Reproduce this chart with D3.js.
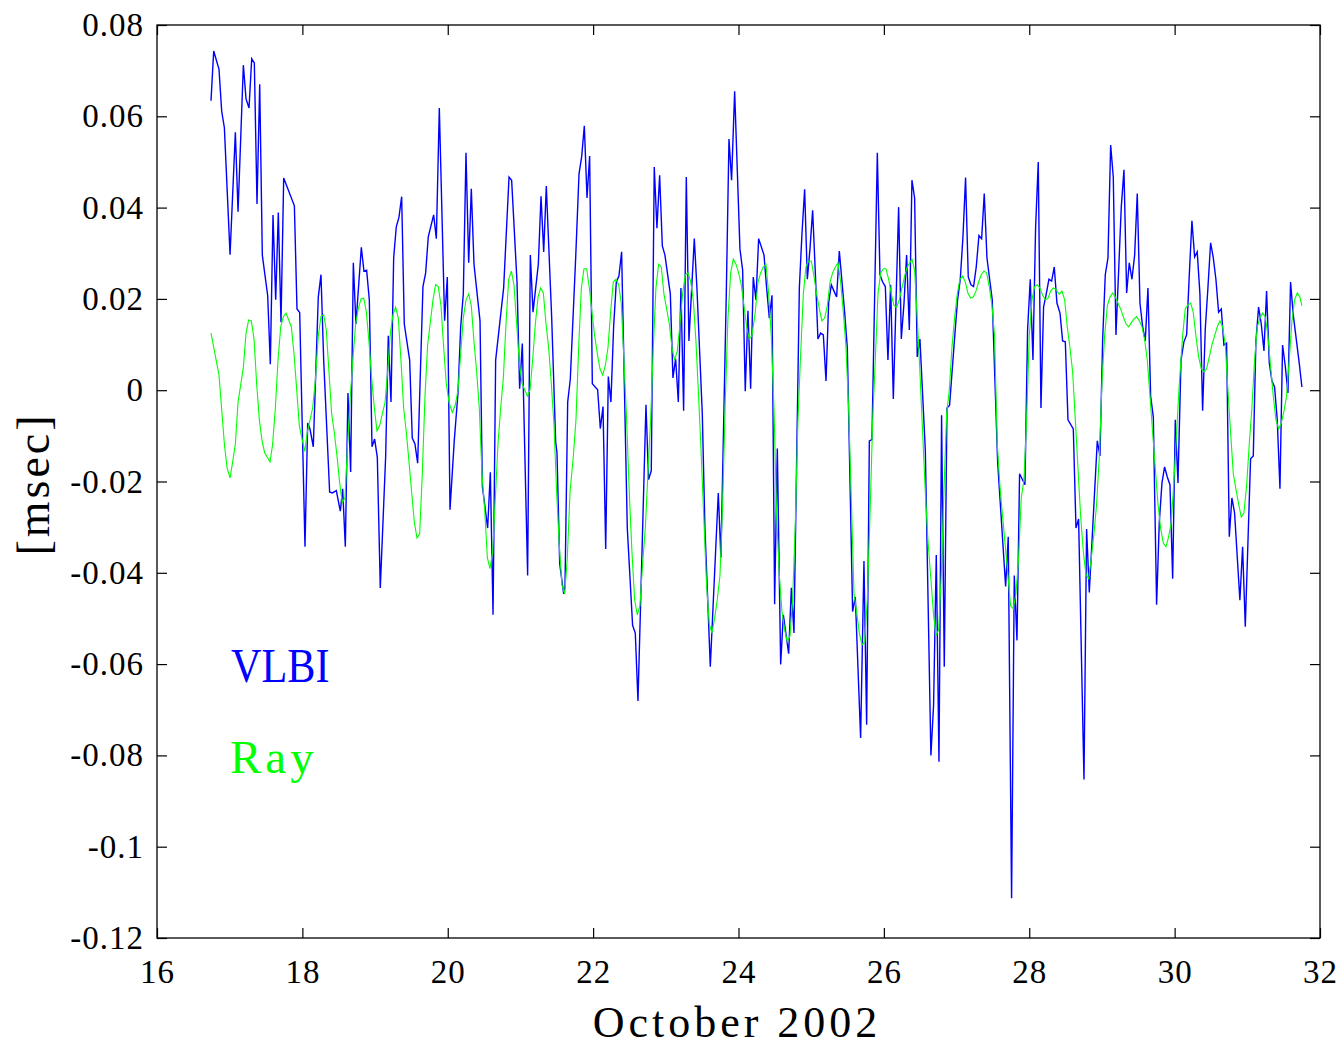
<!DOCTYPE html>
<html>
<head>
<meta charset="utf-8">
<script src="https://cdn.jsdelivr.net/npm/d3@7"></script>
<style>
  body { margin: 0; background: #fff; }
  svg text { font-family: "Liberation Serif", "Times New Roman", serif; fill: #000; }
</style>
</head>
<body>
<svg id="chart" width="1344" height="1046"></svg>
<script>
// VLBI series (day of October 2002, msec)
const vlbiDays = [16.743,16.780,16.853,16.890,16.927,17.005,17.078,17.115,17.188,17.225,17.266,17.303,17.339,17.376,17.413,17.449,17.523,17.559,17.596,17.633,17.669,17.706,17.743,17.890,17.926,17.963,18.036,18.073,18.105,18.150,18.219,18.256,18.293,18.375,18.412,18.467,18.522,18.554,18.591,18.627,18.664,18.701,18.737,18.811,18.847,18.884,18.921,18.958,18.994,19.031,19.072,19.146,19.182,19.219,19.256,19.292,19.329,19.366,19.402,19.476,19.512,19.549,19.586,19.659,19.696,19.732,19.806,19.843,19.884,19.957,19.994,20.031,20.090,20.141,20.178,20.214,20.251,20.288,20.324,20.361,20.444,20.476,20.549,20.586,20.623,20.659,20.769,20.843,20.879,20.953,20.989,21.026,21.099,21.136,21.173,21.246,21.283,21.320,21.356,21.430,21.485,21.503,21.540,21.595,21.613,21.650,21.686,21.760,21.806,21.842,21.879,21.916,21.952,21.989,22.062,22.099,22.136,22.173,22.209,22.245,22.282,22.319,22.355,22.392,22.470,22.543,22.580,22.617,22.727,22.763,22.800,22.841,22.878,22.915,22.952,22.988,23.062,23.098,23.135,23.172,23.208,23.245,23.282,23.318,23.392,23.428,23.502,23.538,23.612,23.722,23.758,23.832,23.869,23.905,23.947,24.020,24.057,24.093,24.130,24.167,24.203,24.240,24.277,24.351,24.387,24.424,24.461,24.497,24.534,24.580,24.617,24.690,24.727,24.763,24.837,24.873,24.910,24.947,24.983,25.020,25.057,25.093,25.130,25.167,25.204,25.240,25.277,25.314,25.350,25.387,25.460,25.497,25.570,25.607,25.680,25.726,25.763,25.800,25.836,25.910,25.946,25.983,26.020,26.056,26.093,26.130,26.203,26.240,26.277,26.313,26.350,26.386,26.423,26.459,26.496,26.570,26.647,26.684,26.721,26.758,26.794,26.831,26.868,26.904,26.978,27.014,27.051,27.088,27.124,27.161,27.198,27.234,27.271,27.308,27.345,27.381,27.418,27.455,27.491,27.565,27.675,27.711,27.757,27.794,27.831,27.867,27.941,27.977,28.014,28.051,28.087,28.124,28.161,28.197,28.234,28.271,28.308,28.344,28.381,28.423,28.459,28.496,28.533,28.606,28.643,28.679,28.753,28.789,28.826,28.936,28.973,29.010,29.046,29.083,29.120,29.156,29.193,29.266,29.303,29.340,29.376,29.413,29.450,29.486,29.523,29.560,29.596,29.633,29.670,29.707,29.752,29.789,29.826,29.862,29.899,29.936,29.973,30.009,30.046,30.088,30.128,30.165,30.201,30.238,30.275,30.311,30.348,30.385,30.422,30.458,30.495,30.532,30.568,30.605,30.642,30.678,30.715,30.752,30.788,30.825,30.898,30.935,30.972,31.045,31.082,31.118,31.155,31.192,31.229,31.265,31.302,31.339,31.375,31.412,31.449,31.485,31.522,31.559,31.595,31.632,31.678,31.714,31.751];
const vlbiValues = [0.0634,0.0743,0.0703,0.0611,0.0575,0.0297,0.0565,0.0391,0.0712,0.0638,0.0618,0.0726,0.0717,0.0408,0.0670,0.0296,0.0207,0.0057,0.0384,0.0198,0.0389,0.0149,0.0465,0.0404,0.0178,0.0170,-0.0343,-0.0072,-0.0085,-0.0124,0.0204,0.0253,0.0066,-0.0223,-0.0225,-0.0220,-0.0265,-0.0216,-0.0343,-0.0006,-0.0179,0.0279,0.0145,0.0313,0.0261,0.0263,0.0198,-0.0124,-0.0107,-0.0147,-0.0433,-0.0144,0.0119,-0.0026,0.0290,0.0358,0.0379,0.0424,0.0145,0.0066,-0.0105,-0.0118,-0.0160,0.0227,0.0257,0.0336,0.0384,0.0332,0.0618,0.0152,0.0248,-0.0262,-0.0110,-0.0006,0.0139,0.0211,0.0520,0.0279,0.0441,0.0276,0.0152,-0.0210,-0.0302,-0.0180,-0.0492,0.0066,0.0224,0.0467,0.0460,0.0237,0.0003,0.0102,-0.0406,0.0296,0.0171,0.0276,0.0425,0.0303,0.0447,0.0158,-0.0114,-0.0137,-0.0380,-0.0446,-0.0430,-0.0026,0.0024,0.0290,0.0474,0.0511,0.0579,0.0421,0.0513,0.0014,0.0001,-0.0084,-0.0036,-0.0348,0.0030,-0.0026,0.0139,0.0237,0.0250,0.0303,-0.0302,-0.0515,-0.0532,-0.0681,-0.0032,-0.0196,-0.0176,0.0489,0.0355,0.0471,0.0316,0.0296,0.0211,0.0027,0.0069,-0.0026,0.0224,-0.0045,0.0467,0.0108,0.0332,0.0224,-0.0052,-0.0302,-0.0606,-0.0225,-0.0367,0.0211,0.0550,0.0460,0.0655,0.0309,0.0263,-0.0002,0.0174,0.0003,0.0248,0.0198,0.0332,0.0296,0.0224,0.0158,0.0208,-0.0469,-0.0128,-0.0601,-0.0492,-0.0577,-0.0433,-0.0532,0.0224,0.0342,0.0440,0.0243,0.0309,0.0394,0.0257,0.0112,0.0125,0.0121,0.0020,0.0191,0.0231,0.0217,0.0204,0.0305,0.0171,0.0093,-0.0485,-0.0453,-0.0762,-0.0374,-0.0733,-0.0111,-0.0108,0.0520,0.0253,0.0237,0.0227,0.0066,0.0231,-0.0019,0.0401,0.0112,0.0191,0.0296,0.0132,0.0460,0.0421,0.0073,0.0112,-0.0131,-0.0800,-0.0689,-0.0361,-0.0814,-0.0055,-0.0606,-0.0039,-0.0033,0.0125,0.0198,0.0243,0.0336,0.0466,0.0248,0.0231,0.0227,0.0270,0.0339,0.0332,0.0431,0.0290,0.0243,0.0198,-0.0157,-0.0430,-0.0321,-0.1113,-0.0406,-0.0548,-0.0183,-0.0207,0.0132,0.0243,0.0066,0.0355,0.0500,-0.0039,0.0182,0.0211,0.0243,0.0239,0.0270,0.0191,0.0169,0.0108,0.0106,-0.0065,-0.0085,-0.0302,-0.0282,-0.0853,-0.0304,-0.0443,-0.0111,-0.0144,0.0112,0.0253,0.0290,0.0537,0.0467,0.0121,0.0401,0.0483,0.0213,0.0279,0.0243,0.0296,0.0431,0.0191,0.0139,0.0108,0.0224,-0.0013,-0.0059,-0.0470,-0.0289,-0.0203,-0.0168,-0.0190,-0.0207,-0.0413,-0.0065,-0.0203,0.0066,0.0106,0.0121,0.0250,0.0371,0.0292,0.0303,0.0211,-0.0045,0.0135,0.0224,0.0323,0.0290,0.0243,0.0171,0.0178,0.0099,0.0103,-0.0321,-0.0236,-0.0269,-0.0460,-0.0343,-0.0518,-0.0150,-0.0144,0.0106,0.0182,0.0145,0.0086,0.0217,0.0060,0.0020,0.0007,-0.0065,-0.0216,0.0099,0.0053,-0.0006,0.0237,0.0165,0.0106,0.0060,0.0007];

// Ray model series
const rayDays = [16.743,16.853,16.927,16.964,17.005,17.041,17.078,17.115,17.188,17.225,17.261,17.298,17.335,17.371,17.408,17.445,17.481,17.555,17.591,17.628,17.665,17.702,17.738,17.775,17.848,17.885,17.922,17.958,18.032,18.068,18.141,18.178,18.219,18.256,18.293,18.329,18.366,18.403,18.439,18.476,18.513,18.549,18.586,18.623,18.659,18.696,18.733,18.769,18.806,18.843,18.880,18.916,18.953,18.990,19.026,19.063,19.100,19.136,19.173,19.210,19.246,19.283,19.320,19.356,19.393,19.430,19.467,19.503,19.540,19.577,19.613,19.650,19.687,19.723,19.797,19.833,19.870,19.907,19.944,19.980,20.017,20.063,20.104,20.141,20.178,20.214,20.251,20.288,20.324,20.361,20.398,20.434,20.471,20.508,20.545,20.581,20.618,20.655,20.691,20.728,20.765,20.801,20.838,20.875,20.911,20.948,20.985,21.022,21.058,21.095,21.132,21.168,21.205,21.242,21.278,21.315,21.352,21.388,21.425,21.462,21.498,21.535,21.572,21.609,21.645,21.682,21.728,21.764,21.801,21.838,21.874,21.911,21.948,21.984,22.021,22.058,22.094,22.131,22.167,22.204,22.241,22.277,22.314,22.351,22.387,22.424,22.461,22.497,22.534,22.571,22.608,22.644,22.681,22.718,22.754,22.791,22.828,22.864,22.901,22.938,22.974,23.011,23.048,23.085,23.121,23.158,23.195,23.231,23.268,23.305,23.341,23.378,23.415,23.451,23.488,23.525,23.561,23.598,23.635,23.672,23.708,23.745,23.782,23.818,23.855,23.892,23.928,23.965,24.002,24.038,24.075,24.112,24.148,24.185,24.231,24.268,24.305,24.341,24.378,24.415,24.451,24.488,24.525,24.562,24.598,24.635,24.672,24.708,24.745,24.782,24.818,24.855,24.892,24.928,24.965,25.002,25.038,25.075,25.112,25.148,25.185,25.222,25.259,25.295,25.332,25.369,25.405,25.442,25.479,25.515,25.552,25.589,25.625,25.662,25.699,25.736,25.772,25.809,25.846,25.882,25.919,25.956,25.992,26.029,26.066,26.102,26.139,26.176,26.212,26.249,26.286,26.322,26.386,26.423,26.459,26.496,26.533,26.570,26.606,26.643,26.680,26.716,26.753,26.790,26.826,26.863,26.900,26.936,26.973,27.010,27.046,27.083,27.120,27.156,27.193,27.230,27.267,27.303,27.340,27.377,27.413,27.450,27.487,27.523,27.560,27.597,27.633,27.670,27.707,27.743,27.780,27.817,27.854,27.890,27.927,27.964,28.000,28.037,28.074,28.110,28.147,28.184,28.221,28.257,28.294,28.331,28.367,28.413,28.450,28.487,28.523,28.560,28.597,28.634,28.670,28.707,28.744,28.780,28.817,28.854,28.890,28.927,28.964,29.000,29.037,29.074,29.110,29.147,29.184,29.220,29.257,29.294,29.331,29.367,29.404,29.441,29.477,29.514,29.551,29.587,29.624,29.661,29.697,29.734,29.771,29.807,29.844,29.881,29.918,29.954,29.991,30.028,30.064,30.110,30.146,30.183,30.220,30.256,30.293,30.330,30.367,30.403,30.440,30.477,30.513,30.550,30.587,30.623,30.660,30.697,30.733,30.770,30.807,30.843,30.880,30.917,30.953,30.990,31.027,31.063,31.100,31.137,31.174,31.210,31.247,31.284,31.320,31.357,31.394,31.431,31.467,31.504,31.540,31.577,31.614,31.650,31.687,31.724,31.751];
const rayValues = [0.0125,0.0033,-0.0118,-0.0170,-0.0192,-0.0157,-0.0118,-0.0026,0.0050,0.0125,0.0154,0.0152,0.0112,0.0014,-0.0065,-0.0111,-0.0137,-0.0157,-0.0118,-0.0039,0.0066,0.0139,0.0161,0.0169,0.0139,0.0080,0.0001,-0.0078,-0.0134,-0.0092,-0.0039,0.0020,0.0119,0.0162,0.0165,0.0132,0.0040,-0.0052,-0.0092,-0.0144,-0.0203,-0.0246,-0.0236,-0.0118,-0.0013,0.0069,0.0145,0.0178,0.0200,0.0202,0.0172,0.0106,0.0027,-0.0039,-0.0089,-0.0078,-0.0052,-0.0028,0.0040,0.0125,0.0165,0.0182,0.0158,0.0066,-0.0039,-0.0092,-0.0157,-0.0223,-0.0289,-0.0324,-0.0315,-0.0183,-0.0013,0.0099,0.0198,0.0231,0.0227,0.0185,0.0093,0.0014,-0.0026,-0.0049,-0.0032,0.0000,0.0080,0.0158,0.0198,0.0211,0.0185,0.0106,0.0040,-0.0039,-0.0183,-0.0262,-0.0367,-0.0391,-0.0354,-0.0236,-0.0118,-0.0039,0.0027,0.0145,0.0243,0.0261,0.0231,0.0145,0.0060,0.0014,0.0001,-0.0013,0.0000,0.0066,0.0145,0.0204,0.0224,0.0213,0.0145,0.0093,0.0014,-0.0078,-0.0223,-0.0341,-0.0427,-0.0446,-0.0367,-0.0223,-0.0144,-0.0065,0.0093,0.0224,0.0266,0.0266,0.0224,0.0171,0.0119,0.0080,0.0047,0.0033,0.0053,0.0093,0.0171,0.0237,0.0243,0.0231,0.0191,0.0066,-0.0065,-0.0223,-0.0354,-0.0459,-0.0492,-0.0472,-0.0380,-0.0302,-0.0183,-0.0065,0.0093,0.0224,0.0276,0.0270,0.0211,0.0178,0.0145,0.0093,0.0066,0.0086,0.0145,0.0211,0.0253,0.0257,0.0239,0.0198,0.0106,-0.0013,-0.0144,-0.0289,-0.0427,-0.0512,-0.0532,-0.0499,-0.0459,-0.0406,-0.0249,-0.0026,0.0158,0.0257,0.0287,0.0276,0.0257,0.0231,0.0185,0.0139,0.0112,0.0119,0.0171,0.0237,0.0257,0.0270,0.0276,0.0211,0.0119,-0.0039,-0.0276,-0.0406,-0.0485,-0.0525,-0.0551,-0.0538,-0.0459,-0.0289,-0.0065,0.0080,0.0211,0.0270,0.0283,0.0283,0.0250,0.0211,0.0178,0.0152,0.0158,0.0185,0.0237,0.0257,0.0270,0.0279,0.0237,0.0171,0.0093,-0.0039,-0.0236,-0.0446,-0.0485,-0.0532,-0.0558,-0.0551,-0.0459,-0.0276,-0.0065,0.0066,0.0211,0.0257,0.0266,0.0266,0.0243,0.0211,0.0185,0.0182,0.0198,0.0224,0.0250,0.0270,0.0287,0.0263,0.0158,0.0040,-0.0092,-0.0223,-0.0328,-0.0406,-0.0485,-0.0538,-0.0525,-0.0406,-0.0223,-0.0052,0.0000,0.0093,0.0158,0.0211,0.0243,0.0250,0.0237,0.0213,0.0202,0.0204,0.0217,0.0237,0.0253,0.0261,0.0257,0.0227,0.0185,0.0119,-0.0118,-0.0210,-0.0276,-0.0341,-0.0406,-0.0472,-0.0479,-0.0446,-0.0367,-0.0236,-0.0197,-0.0065,0.0119,0.0198,0.0227,0.0231,0.0224,0.0208,0.0198,0.0201,0.0217,0.0224,0.0221,0.0210,0.0217,0.0198,0.0139,0.0093,0.0040,-0.0065,-0.0170,-0.0276,-0.0354,-0.0404,-0.0413,-0.0367,-0.0315,-0.0249,-0.0144,0.0014,0.0119,0.0185,0.0204,0.0213,0.0204,0.0191,0.0178,0.0161,0.0145,0.0139,0.0148,0.0156,0.0161,0.0152,0.0139,0.0112,0.0066,-0.0013,-0.0092,-0.0170,-0.0249,-0.0302,-0.0335,-0.0343,-0.0321,-0.0289,-0.0197,-0.0092,0.0014,0.0119,0.0178,0.0187,0.0191,0.0171,0.0119,0.0073,0.0047,0.0040,0.0047,0.0073,0.0099,0.0119,0.0139,0.0152,0.0139,0.0099,0.0001,-0.0092,-0.0183,-0.0216,-0.0249,-0.0278,-0.0269,-0.0210,-0.0118,-0.0039,0.0066,0.0139,0.0158,0.0169,0.0161,0.0119,0.0053,-0.0013,-0.0065,-0.0085,-0.0072,-0.0046,-0.0013,0.0066,0.0152,0.0198,0.0213,0.0204,0.0185];

// axis ticks
const xTicks = [16, 18, 20, 22, 24, 26, 28, 30, 32];
const yTicks = [0.08, 0.06, 0.04, 0.02, 0, -0.02, -0.04, -0.06, -0.08, -0.1, -0.12];
const yTickLabels = ["0.08", "0.06", "0.04", "0.02", "0", "-0.02", "-0.04", "-0.06", "-0.08", "-0.1", "-0.12"];

const svg = d3.select("#chart");
const plotLeft = 157, plotRight = 1320, plotTop = 25, plotBottom = 938;

const x = d3.scaleLinear().domain([16, 32]).range([plotLeft, plotRight]);
const y = d3.scaleLinear().domain([-0.12, 0.08]).range([plotBottom, plotTop]);

// frame
svg.append("rect")
    .attr("x", plotLeft).attr("y", plotTop)
    .attr("width", plotRight - plotLeft).attr("height", plotBottom - plotTop)
    .attr("fill", "none").attr("stroke", "#000").attr("stroke-width", 1.3);

// axes, ticks pointing inward like matlab
const yLabelOf = d => yTickLabels[yTicks.indexOf(d)];
const leftAxis = svg.append("g").attr("transform", `translate(${plotLeft},0)`)
    .call(d3.axisLeft(y).tickValues(yTicks).tickSize(-10).tickSizeOuter(0).tickPadding(13).tickFormat(yLabelOf));
const bottomAxis = svg.append("g").attr("transform", `translate(0,${plotBottom})`)
    .call(d3.axisBottom(x).tickValues(xTicks).tickSize(-10).tickSizeOuter(0).tickPadding(22).tickFormat(d3.format("d")));
svg.append("g").attr("transform", `translate(${plotRight},0)`)
    .call(d3.axisRight(y).tickValues(yTicks).tickSize(-10).tickSizeOuter(0).tickFormat(""));
svg.append("g").attr("transform", `translate(0,${plotTop})`)
    .call(d3.axisTop(x).tickValues(xTicks).tickSize(-10).tickSizeOuter(0).tickFormat(""));

svg.selectAll(".domain").remove();
svg.selectAll(".tick line").attr("stroke", "#000").attr("stroke-width", 1.2);
[leftAxis, bottomAxis].forEach(a => a.selectAll("text")
    .style("font-family", "'Liberation Serif', serif")
    .style("font-size", "33px")
    .style("letter-spacing", "1px"));

// lines
const line = d3.line().x(d => x(d[0])).y(d => y(d[1]));
svg.append("path")
    .datum(d3.zip(vlbiDays, vlbiValues))
    .attr("fill", "none").attr("stroke", "#0000ff").attr("stroke-width", 1.4)
    .attr("d", line);
svg.append("path")
    .datum(d3.zip(rayDays, rayValues))
    .attr("fill", "none").attr("stroke", "#00ff00").attr("stroke-width", 1.1)
    .attr("d", line);

// labels
svg.append("text").attr("transform", "translate(231,682) scale(0.88,1)")
    .style("font-size", "48px").style("fill", "#0000ff").text("VLBI");
svg.append("text").attr("x", 230).attr("y", 773)
    .style("font-size", "47px").style("letter-spacing", "4px").style("fill", "#00ff00").text("Ray");

svg.append("text")
    .attr("transform", "translate(49,484) rotate(-90)")
    .attr("text-anchor", "middle")
    .style("font-size", "46px").style("letter-spacing", "3px")
    .text("[msec]");

svg.append("text")
    .attr("x", 737).attr("y", 1037)
    .attr("text-anchor", "middle")
    .style("font-size", "44px").style("letter-spacing", "4px")
    .text("October 2002");
</script>
</body>
</html>
